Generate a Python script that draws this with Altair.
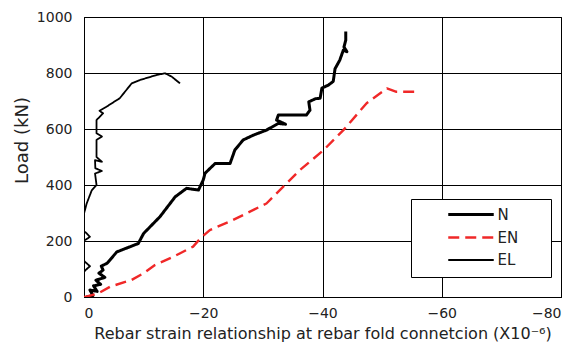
import altair as alt
import pandas as pd

FONT = "DejaVu Sans"

series_order = ["N", "EN", "EL"]

n_strain = [-0.4, -1.5, -1.0, -2.2, -1.6, -2.8, -2.0, -3.5, -2.5, -3.2, -2.9, -3.9, -5.5, -9.1, -10.0,
            -12.75, -15.3, -17.2, -19.2, -20.0, -20.3, -22.0, -24.5, -25.3, -26.7, -28.4, -30.6,
            -32.6, -33.8, -32.3, -32.6, -37.3, -37.9, -37.7, -38.8, -39.6, -39.9, -41.0, -41.8,
            -42.1, -42.9, -43.5, -44.1, -43.6, -43.9, -43.9]
n_load = [0, 5, 25, 20, 40, 45, 60, 70, 85, 96, 110, 121, 161, 191, 227,
          287, 358, 388, 382, 418, 442, 477, 477, 525, 561, 578, 596,
          620, 617, 632, 650, 650, 667, 697, 708, 710, 746, 757, 770,
          815, 846, 882, 876, 893, 917, 948]

en_strain = [0.0, -0.5, -2.4, -4.4, -8.0, -10.0, -11.9, -15.0, -18.3, -19.5, -21.1, -25.0,
             -30.6, -32.3, -36.2, -40.2, -43.5, -47.4, -50.8, -51.5, -52.4, -56.1]
en_load = [0, 2, 13, 37, 61, 85, 114, 144, 180, 209, 239, 275,
           334, 370, 453, 525, 596, 692, 745, 740, 733, 733]

el_strain = [0.5, 1.0, -0.2, -1.0, -0.2, 1.0, 1.0, -0.3, -1.0, -0.3, 1.0, 0.5, 0.0, -0.45,
             -1.3, -2.1, -1.85, -3.0, -1.9, -1.85, -3.0, -2.1, -2.1, -3.0, -2.1, -2.1, -3.2,
             -2.6, -3.8, -6.0, -8.0, -9.4, -12.2, -13.6, -14.7, -16.1]
el_load = [0, 60, 95, 110, 125, 150, 190, 205, 215, 230, 250, 280, 298, 334,
           381, 400, 441, 450, 460, 489, 483, 500, 561, 573, 585, 632, 656,
           665, 680, 710, 763, 775, 793, 799, 787, 763]

x_ticks = [0, -20, -40, -60, -80]
y_ticks = [0, 200, 400, 600, 800, 1000]

rows = []
for name, xs, ys in [("N", n_strain, n_load), ("EN", en_strain, en_load), ("EL", el_strain, el_load)]:
    for i, (x, y) in enumerate(zip(xs, ys)):
        rows.append({"series": name, "strain": x, "load": y, "i": i})
df = pd.DataFrame(rows)

box = alt.Chart(alt.Data(values=[{"a": 1}])).mark_rect(
    fill="white", stroke="black", strokeWidth=1
).encode(
    x=alt.value(327.5), x2=alt.value(467.5), y=alt.value(182.5), y2=alt.value(260.5)
)

lines = alt.Chart(df).mark_line(clip=True, strokeJoin="round", strokeCap="butt").encode(
    x=alt.X("strain:Q",
            scale=alt.Scale(domain=[-80, 0], reverse=True, nice=False),
            axis=alt.Axis(values=x_ticks,
                          title="Rebar strain relationship at rebar fold connetcion (X10⁻⁶)")),
    y=alt.Y("load:Q",
            scale=alt.Scale(domain=[0, 1000], nice=False),
            axis=alt.Axis(values=y_ticks, format="d", title="Load (kN)", titleY=123)),
    color=alt.Color("series:N",
                    scale=alt.Scale(domain=series_order, range=["#000000", "#f02828", "#000000"]),
                    legend=alt.Legend(title=None)),
    strokeDash=alt.StrokeDash("series:N",
                              scale=alt.Scale(domain=series_order, range=[[1, 0], [11, 6], [1, 0]]),
                              legend=alt.Legend(title=None)),
    strokeWidth=alt.StrokeWidth("series:N",
                                scale=alt.Scale(domain=series_order, range=[3.0, 1.8, 1.4]),
                                legend=alt.Legend(title=None)),
    order="i:Q",
)

chart = alt.layer(box, lines).properties(
    width=477, height=280,
    autosize=alt.AutoSizeParams(type="none"),
    padding={"left": 76, "top": 9, "right": 17, "bottom": 46},
).configure_view(
    stroke="black", strokeWidth=1
).configure_axis(
    grid=True, gridColor="black", gridOpacity=1, gridWidth=1,
    domainColor="black", domainWidth=1, ticks=False,
    labelFont=FONT, labelFontSize=14, labelColor="#222",
    titleFont=FONT, titleFontWeight="normal", titleColor="#222",
).configure_axisX(
    labelPadding=9, titlePadding=5, titleFontSize=16
).configure_axisY(
    labelPadding=12, titlePadding=5, titleFontSize=18
).configure_legend(
    orient="none", legendX=372.5, legendY=183, padding=0, rowPadding=0,
    symbolType="M-1.75,0L1.75,0", symbolSize=676, labelOffset=12,
    labelFont=FONT, labelFontSize=15, labelColor="#222",
)

chart.save("out.html", embed_options={"renderer": "svg", "actions": False})
